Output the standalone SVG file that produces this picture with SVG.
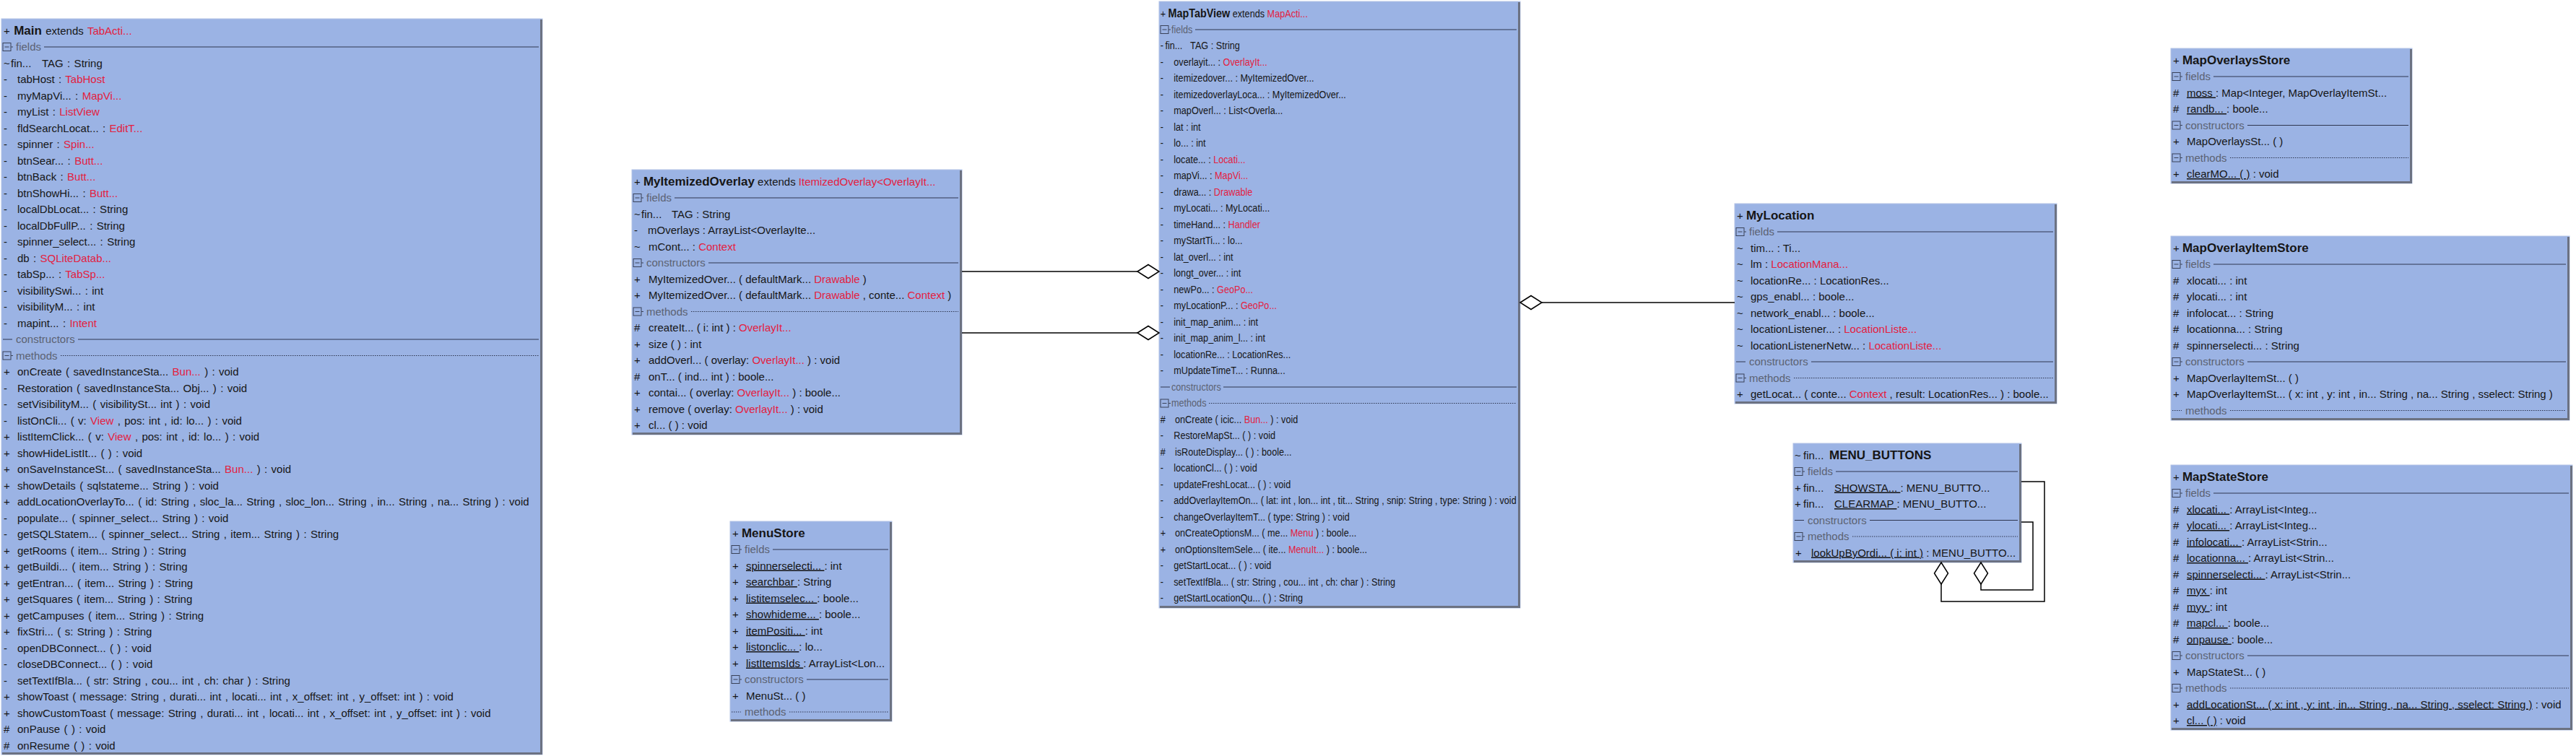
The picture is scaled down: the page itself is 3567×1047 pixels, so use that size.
<svg xmlns="http://www.w3.org/2000/svg" xmlns:xlink="http://www.w3.org/1999/xlink" width="3567" height="1047" viewBox="0 0 3567 1047" xml:space="preserve">
<style>
text{font-family:"Liberation Sans",Arial,Helvetica,sans-serif;font-size:15px;fill:#161616}
.ttl{font-size:17px;font-weight:bold}
.r{fill:#e3203f}
.h{fill:#5b6272}
.u{text-decoration:underline}
.ws text{word-spacing:1.2px}
.box{fill:#9bb3e4;stroke:#b4c3e6;stroke-width:1}
.sh{fill:none;stroke:#6c7282;stroke-width:3}
.hl{stroke:#2e3650;stroke-width:1}
.hd{stroke:#2e3650;stroke-width:1;stroke-dasharray:1.5 1.5}
.ic{fill:none;stroke:#3a4258;stroke-width:1}
.con{fill:none;stroke:#000;stroke-width:1.5}
.dia{fill:#fff;stroke:#000;stroke-width:1.5}
</style>
<defs>
<g id="ico"><rect class="ic" x="2" y="-5.5" width="11" height="11"/><path class="ic" d="M4.5 0H10.5M13 0H16"/></g>
</defs>
<rect x="0" y="0" width="3567" height="1047" fill="#fff"/>

<g id="Main" class="ws">
<rect class="box" x="2" y="26" width="749" height="1019"/>
<polyline class="sh" points="749.5,27 749.5,1043.5 3,1043.5"/>
<text x="5" y="48">+ <tspan class="ttl">Main</tspan> extends <tspan class="r">TabActi...</tspan></text>
<use xlink:href="#ico" x="2" y="65"/><text class="h" x="22" y="70">fields</text><line class="hl" x1="61" y1="65" x2="746" y2="65"/>
<text x="5" y="92.5">~<tspan x="15">fin...</tspan><tspan x="58">TAG : String</tspan></text>
<text x="5" y="115">-<tspan x="24">tabHost : <tspan class="r">TabHost</tspan></tspan></text>
<text x="5" y="137.5">-<tspan x="24">myMapVi...  : <tspan class="r">MapVi...</tspan></tspan></text>
<text x="5" y="160">-<tspan x="24">myList : <tspan class="r">ListView</tspan></tspan></text>
<text x="5" y="182.5">-<tspan x="24">fldSearchLocat...  : <tspan class="r">EditT...</tspan></tspan></text>
<text x="5" y="205">-<tspan x="24">spinner : <tspan class="r">Spin...</tspan></tspan></text>
<text x="5" y="227.5">-<tspan x="24">btnSear...  : <tspan class="r">Butt...</tspan></tspan></text>
<text x="5" y="250">-<tspan x="24">btnBack : <tspan class="r">Butt...</tspan></tspan></text>
<text x="5" y="272.5">-<tspan x="24">btnShowHi...  : <tspan class="r">Butt...</tspan></tspan></text>
<text x="5" y="295">-<tspan x="24">localDbLocat...  : String</tspan></text>
<text x="5" y="317.5">-<tspan x="24">localDbFullP...  : String</tspan></text>
<text x="5" y="340">-<tspan x="24">spinner_select...  : String</tspan></text>
<text x="5" y="362.5">-<tspan x="24">db : <tspan class="r">SQLiteDatab...</tspan></tspan></text>
<text x="5" y="385">-<tspan x="24">tabSp...  : <tspan class="r">TabSp...</tspan></tspan></text>
<text x="5" y="407.5">-<tspan x="24">visibilitySwi...  : int</tspan></text>
<text x="5" y="430">-<tspan x="24">visibilityM...  : int</tspan></text>
<text x="5" y="452.5">-<tspan x="24">mapint...  : <tspan class="r">Intent</tspan></tspan></text>
<line class="hl" x1="4" y1="470" x2="17" y2="470"/><text class="h" x="22" y="475">constructors</text><line class="hl" x1="108" y1="470" x2="746" y2="470"/>
<use xlink:href="#ico" x="2" y="492.5"/><text class="h" x="22" y="497.5">methods</text><line class="hd" x1="84" y1="492.5" x2="746" y2="492.5"/>
<text x="5" y="520">+<tspan x="24">onCreate ( savedInstanceSta...  <tspan class="r">Bun...</tspan>  ) : void</tspan></text>
<text x="5" y="542.5">-<tspan x="24">Restoration ( savedInstanceSta...  Obj...  ) : void</tspan></text>
<text x="5" y="565">-<tspan x="24">setVisibilityM...  ( visibilitySt...  int ) : void</tspan></text>
<text x="5" y="587.5">-<tspan x="24">listOnCli...  ( v: <tspan class="r">View</tspan> , pos: int , id: lo...  ) : void</tspan></text>
<text x="5" y="610">+<tspan x="24">listItemClick...  ( v: <tspan class="r">View</tspan> , pos: int , id: lo...  ) : void</tspan></text>
<text x="5" y="632.5">+<tspan x="24">showHideListIt...  ( ) : void</tspan></text>
<text x="5" y="655">+<tspan x="24">onSaveInstanceSt...  ( savedInstanceSta...  <tspan class="r">Bun...</tspan>  ) : void</tspan></text>
<text x="5" y="677.5">+<tspan x="24">showDetails ( sqlstateme...  String ) : void</tspan></text>
<text x="5" y="700">+<tspan x="24">addLocationOverlayTo...  ( id: String , sloc_la...  String , sloc_lon...  String , in...  String , na...  String ) : void</tspan></text>
<text x="5" y="722.5">-<tspan x="24">populate...  ( spinner_select...  String ) : void</tspan></text>
<text x="5" y="745">-<tspan x="24">getSQLStatem...  ( spinner_select...  String , item...  String ) : String</tspan></text>
<text x="5" y="767.5">+<tspan x="24">getRooms ( item...  String ) : String</tspan></text>
<text x="5" y="790">+<tspan x="24">getBuildi...  ( item...  String ) : String</tspan></text>
<text x="5" y="812.5">+<tspan x="24">getEntran...  ( item...  String ) : String</tspan></text>
<text x="5" y="835">+<tspan x="24">getSquares ( item...  String ) : String</tspan></text>
<text x="5" y="857.5">+<tspan x="24">getCampuses ( item...  String ) : String</tspan></text>
<text x="5" y="880">+<tspan x="24">fixStri...  ( s: String ) : String</tspan></text>
<text x="5" y="902.5">-<tspan x="24">openDBConnect...  ( ) : void</tspan></text>
<text x="5" y="925">-<tspan x="24">closeDBConnect...  ( ) : void</tspan></text>
<text x="5" y="947.5">-<tspan x="24">setTextIfBla...  ( str: String , cou...  int , ch: char ) : String</tspan></text>
<text x="5" y="970">+<tspan x="24">showToast ( message: String , durati...  int , locati...  int , x_offset: int , y_offset: int ) : void</tspan></text>
<text x="5" y="992.5">+<tspan x="24">showCustomToast ( message: String , durati...  int , locati...  int , x_offset: int , y_offset: int ) : void</tspan></text>
<text x="5" y="1015">#<tspan x="24">onPause ( ) : void</tspan></text>
<text x="5" y="1037.5">#<tspan x="24">onResume ( ) : void</tspan></text>
</g>

<g id="MyItemizedOverlay">
<rect class="box" x="875" y="235" width="457" height="367"/>
<polyline class="sh" points="1330.5,236 1330.5,600.5 876,600.5"/>
<text x="878" y="257">+ <tspan class="ttl">MyItemizedOverlay</tspan> extends <tspan class="r">ItemizedOverlay&lt;OverlayIt...</tspan></text>
<use xlink:href="#ico" x="875" y="274"/><text class="h" x="895" y="279">fields</text><line class="hl" x1="934" y1="274" x2="1327" y2="274"/>
<text x="878" y="301.5">~<tspan x="888">fin...</tspan><tspan x="930">TAG : String</tspan></text>
<text x="878" y="324">-<tspan x="897">mOverlays : ArrayList&lt;OverlayIte...</tspan></text>
<text x="878" y="346.5">~<tspan x="898">mCont...  : <tspan class="r">Context</tspan></tspan></text>
<use xlink:href="#ico" x="875" y="364"/><text class="h" x="895" y="369">constructors</text><line class="hl" x1="981" y1="364" x2="1327" y2="364"/>
<text x="878" y="391.5">+<tspan x="898">MyItemizedOver...  ( defaultMark...  <tspan class="r">Drawable</tspan> )</tspan></text>
<text x="878" y="414">+<tspan x="898">MyItemizedOver...  ( defaultMark...  <tspan class="r">Drawable</tspan> , conte...  <tspan class="r">Context</tspan> )</tspan></text>
<use xlink:href="#ico" x="875" y="431.5"/><text class="h" x="895" y="436.5">methods</text><line class="hd" x1="957" y1="431.5" x2="1327" y2="431.5"/>
<text x="878" y="459">#<tspan x="898">createIt...  ( i: int ) : <tspan class="r">OverlayIt...</tspan></tspan></text>
<text x="878" y="481.5">+<tspan x="898">size ( ) : int</tspan></text>
<text x="878" y="504">+<tspan x="898">addOverl...  ( overlay: <tspan class="r">OverlayIt...</tspan>  ) : void</tspan></text>
<text x="878" y="526.5">#<tspan x="898">onT...  ( ind...  int ) : boole...</tspan></text>
<text x="878" y="549">+<tspan x="898">contai...  ( overlay: <tspan class="r">OverlayIt...</tspan>  ) : boole...</tspan></text>
<text x="878" y="571.5">+<tspan x="898">remove ( overlay: <tspan class="r">OverlayIt...</tspan>  ) : void</tspan></text>
<text x="878" y="594">+<tspan x="898">cl...  ( ) : void</tspan></text>
</g>

<g id="MenuStore">
<rect class="box" x="1011" y="722" width="224" height="277"/>
<polyline class="sh" points="1233.5,723 1233.5,997.5 1012,997.5"/>
<text x="1014" y="744">+ <tspan class="ttl">MenuStore</tspan></text>
<use xlink:href="#ico" x="1011" y="761"/><text class="h" x="1031" y="766">fields</text><line class="hl" x1="1070" y1="761" x2="1230" y2="761"/>
<text x="1014" y="788.5">+<tspan x="1033" class="u">spinnerselecti...  </tspan>: int</text>
<text x="1014" y="811">+<tspan x="1033" class="u">searchbar </tspan>: String</text>
<text x="1014" y="833.5">+<tspan x="1033" class="u">listitemselec...  </tspan>: boole...</text>
<text x="1014" y="856">+<tspan x="1033" class="u">showhideme...  </tspan>: boole...</text>
<text x="1014" y="878.5">+<tspan x="1033" class="u">itemPositi...  </tspan>: int</text>
<text x="1014" y="901">+<tspan x="1033" class="u">listonclic...  </tspan>: lo...</text>
<text x="1014" y="923.5">+<tspan x="1033" class="u">listItemsIds </tspan>: ArrayList&lt;Lon...</text>
<use xlink:href="#ico" x="1011" y="941"/><text class="h" x="1031" y="946">constructors</text><line class="hl" x1="1117" y1="941" x2="1230" y2="941"/>
<text x="1014" y="968.5">+<tspan x="1033">MenuSt...  ( )</tspan></text>
<line class="hd" x1="1013" y1="986" x2="1026" y2="986"/><text class="h" x="1031" y="991">methods</text><line class="hd" x1="1093" y1="986" x2="1230" y2="986"/>
</g>

<g id="MapTabView">
<rect class="box" x="1605" y="2" width="500" height="840"/>
<polyline class="sh" points="2103.5,3 2103.5,840.5 1606,840.5"/>
<use xlink:href="#ico" x="1605" y="41"/><line class="hl" x1="1655" y1="41" x2="2100" y2="41"/>
<line class="hl" x1="1607" y1="536" x2="1620" y2="536"/><line class="hl" x1="1694" y1="536" x2="2100" y2="536"/>
<use xlink:href="#ico" x="1605" y="558.5"/><line class="hd" x1="1674" y1="558.5" x2="2100" y2="558.5"/>
<g transform="translate(1605 0) scale(0.845 1) translate(-1605 0)">
<text x="1607" y="24">+ <tspan class="ttl">MapTabView</tspan> extends <tspan class="r">MapActi...</tspan></text>
<text class="h" x="1625" y="46">fields</text>
<text x="1607" y="68.5">-<tspan x="1615">fin...</tspan><tspan x="1656">TAG : String</tspan></text>
<text x="1607" y="91">-<tspan x="1629">overlayit...  : <tspan class="r">OverlayIt...</tspan></tspan></text>
<text x="1607" y="113.5">-<tspan x="1629">itemizedover...  : MyItemizedOver...</tspan></text>
<text x="1607" y="136">-<tspan x="1629">itemizedoverlayLoca...  : MyItemizedOver...</tspan></text>
<text x="1607" y="158.5">-<tspan x="1629">mapOverl...  : List&lt;Overla...</tspan></text>
<text x="1607" y="181">-<tspan x="1629">lat : int</tspan></text>
<text x="1607" y="203.5">-<tspan x="1629">lo...  : int</tspan></text>
<text x="1607" y="226">-<tspan x="1629">locate...  : <tspan class="r">Locati...</tspan></tspan></text>
<text x="1607" y="248.5">-<tspan x="1629">mapVi...  : <tspan class="r">MapVi...</tspan></tspan></text>
<text x="1607" y="271">-<tspan x="1629">drawa...  : <tspan class="r">Drawable</tspan></tspan></text>
<text x="1607" y="293.5">-<tspan x="1629">myLocati...  : MyLocati...</tspan></text>
<text x="1607" y="316">-<tspan x="1629">timeHand...  : <tspan class="r">Handler</tspan></tspan></text>
<text x="1607" y="338.5">-<tspan x="1629">myStartTi...  : lo...</tspan></text>
<text x="1607" y="361">-<tspan x="1629">lat_overl...  : int</tspan></text>
<text x="1607" y="383.5">-<tspan x="1629">longt_over...  : int</tspan></text>
<text x="1607" y="406">-<tspan x="1629">newPo...  : <tspan class="r">GeoPo...</tspan></tspan></text>
<text x="1607" y="428.5">-<tspan x="1629">myLocationP...  : <tspan class="r">GeoPo...</tspan></tspan></text>
<text x="1607" y="451">-<tspan x="1629">init_map_anim...  : int</tspan></text>
<text x="1607" y="473.5">-<tspan x="1629">init_map_anim_l...  : int</tspan></text>
<text x="1607" y="496">-<tspan x="1629">locationRe...  : LocationRes...</tspan></text>
<text x="1607" y="518.5">-<tspan x="1629">mUpdateTimeT...  : Runna...</tspan></text>
<text class="h" x="1625" y="541">constructors</text>
<text class="h" x="1625" y="563.5">methods</text>
<text x="1607" y="586">#<tspan x="1631">onCreate ( icic...  <tspan class="r">Bun...</tspan>  ) : void</tspan></text>
<text x="1607" y="608.5">-<tspan x="1629">RestoreMapSt...  ( ) : void</tspan></text>
<text x="1607" y="631">#<tspan x="1631">isRouteDisplay...  ( ) : boole...</tspan></text>
<text x="1607" y="653.5">-<tspan x="1629">locationCl...  ( ) : void</tspan></text>
<text x="1607" y="676">-<tspan x="1629">updateFreshLocat...  ( ) : void</tspan></text>
<text x="1607" y="698.5">-<tspan x="1629">addOverlayItemOn...  ( lat: int , lon...  int , tit...  String , snip: String , type: String ) : void</tspan></text>
<text x="1607" y="721">-<tspan x="1629">changeOverlayItemT...  ( type: String ) : void</tspan></text>
<text x="1607" y="743.5">+<tspan x="1631">onCreateOptionsM...  ( me...  <tspan class="r">Menu</tspan> ) : boole...</tspan></text>
<text x="1607" y="766">+<tspan x="1631">onOptionsItemSele...  ( ite...  <tspan class="r">MenuIt...</tspan>  ) : boole...</tspan></text>
<text x="1607" y="788.5">-<tspan x="1629">getStartLocat...  ( ) : void</tspan></text>
<text x="1607" y="811">-<tspan x="1629">setTextIfBla...  ( str: String , cou...  int , ch: char ) : String</tspan></text>
<text x="1607" y="833.5">-<tspan x="1629">getStartLocationQu...  ( ) : String</tspan></text>
</g>
</g>

<g id="MyLocation">
<rect class="box" x="2402" y="282" width="446" height="277"/>
<polyline class="sh" points="2846.5,283 2846.5,557.5 2403,557.5"/>
<text x="2405" y="304">+ <tspan class="ttl">MyLocation</tspan></text>
<use xlink:href="#ico" x="2402" y="321"/><text class="h" x="2422" y="326">fields</text><line class="hl" x1="2461" y1="321" x2="2843" y2="321"/>
<text x="2405" y="348.5">~<tspan x="2424">tim...  : Ti...</tspan></text>
<text x="2405" y="371">~<tspan x="2424">lm : <tspan class="r">LocationMana...</tspan></tspan></text>
<text x="2405" y="393.5">~<tspan x="2424">locationRe...  : LocationRes...</tspan></text>
<text x="2405" y="416">~<tspan x="2424">gps_enabl...  : boole...</tspan></text>
<text x="2405" y="438.5">~<tspan x="2424">network_enabl...  : boole...</tspan></text>
<text x="2405" y="461">~<tspan x="2424">locationListener...  : <tspan class="r">LocationListe...</tspan></tspan></text>
<text x="2405" y="483.5">~<tspan x="2424">locationListenerNetw...  : <tspan class="r">LocationListe...</tspan></tspan></text>
<line class="hl" x1="2404" y1="501" x2="2417" y2="501"/><text class="h" x="2422" y="506">constructors</text><line class="hl" x1="2508" y1="501" x2="2843" y2="501"/>
<use xlink:href="#ico" x="2402" y="523.5"/><text class="h" x="2422" y="528.5">methods</text><line class="hd" x1="2484" y1="523.5" x2="2843" y2="523.5"/>
<text x="2405" y="551">+<tspan x="2424">getLocat...  ( conte...  <tspan class="r">Context</tspan> , result: LocationRes...  ) : boole...</tspan></text>
</g>

<g id="MENU_BUTTONS">
<rect class="box" x="2483" y="614" width="316" height="165"/>
<polyline class="sh" points="2797.5,615 2797.5,777.5 2484,777.5"/>
<text x="2485" y="636">~<tspan x="2497">fin...</tspan><tspan x="2533" class="ttl">MENU_BUTTONS</tspan></text>
<use xlink:href="#ico" x="2483" y="653"/><text class="h" x="2503" y="658">fields</text><line class="hl" x1="2542" y1="653" x2="2794" y2="653"/>
<text x="2485" y="680.5">+<tspan x="2497">fin...</tspan><tspan x="2540" class="u">SHOWSTA...  </tspan>: MENU_BUTTO...</text>
<text x="2485" y="703">+<tspan x="2497">fin...</tspan><tspan x="2540" class="u">CLEARMAP </tspan>: MENU_BUTTO...</text>
<line class="hl" x1="2485" y1="720.5" x2="2498" y2="720.5"/><text class="h" x="2503" y="725.5">constructors</text><line class="hl" x1="2589" y1="720.5" x2="2794" y2="720.5"/>
<use xlink:href="#ico" x="2483" y="743"/><text class="h" x="2503" y="748">methods</text><line class="hd" x1="2565" y1="743" x2="2794" y2="743"/>
<text x="2486" y="770.5">+<tspan x="2508" class="u">lookUpByOrdi...  ( i: int )</tspan> : MENU_BUTTO...</text>
</g>

<g id="MapOverlaysStore">
<rect class="box" x="3006" y="67" width="334" height="187"/>
<polyline class="sh" points="3338.5,68 3338.5,252.5 3007,252.5"/>
<text x="3009" y="89">+ <tspan class="ttl">MapOverlaysStore</tspan></text>
<use xlink:href="#ico" x="3006" y="106"/><text class="h" x="3026" y="111">fields</text><line class="hl" x1="3065" y1="106" x2="3335" y2="106"/>
<text x="3009" y="133.5">#<tspan x="3028" class="u">moss </tspan>: Map&lt;Integer, MapOverlayItemSt...</text>
<text x="3009" y="156">#<tspan x="3028" class="u">randb...  </tspan>: boole...</text>
<use xlink:href="#ico" x="3006" y="173.5"/><text class="h" x="3026" y="178.5">constructors</text><line class="hl" x1="3112" y1="173.5" x2="3335" y2="173.5"/>
<text x="3009" y="201">+<tspan x="3028">MapOverlaysSt...  ( )</tspan></text>
<use xlink:href="#ico" x="3006" y="218.5"/><text class="h" x="3026" y="223.5">methods</text><line class="hd" x1="3088" y1="218.5" x2="3335" y2="218.5"/>
<text x="3009" y="246">+<tspan x="3028" class="u">clearMO...  ( )</tspan> : void</text>
</g>

<g id="MapOverlayItemStore">
<rect class="box" x="3006" y="327" width="552" height="255"/>
<polyline class="sh" points="3556.5,328 3556.5,580.5 3007,580.5"/>
<text x="3009" y="349">+ <tspan class="ttl">MapOverlayItemStore</tspan></text>
<use xlink:href="#ico" x="3006" y="366"/><text class="h" x="3026" y="371">fields</text><line class="hl" x1="3065" y1="366" x2="3553" y2="366"/>
<text x="3009" y="393.5">#<tspan x="3028">xlocati...  : int</tspan></text>
<text x="3009" y="416">#<tspan x="3028">ylocati...  : int</tspan></text>
<text x="3009" y="438.5">#<tspan x="3028">infolocat...  : String</tspan></text>
<text x="3009" y="461">#<tspan x="3028">locationna...  : String</tspan></text>
<text x="3009" y="483.5">#<tspan x="3028">spinnerselecti...  : String</tspan></text>
<use xlink:href="#ico" x="3006" y="501"/><text class="h" x="3026" y="506">constructors</text><line class="hl" x1="3112" y1="501" x2="3553" y2="501"/>
<text x="3009" y="528.5">+<tspan x="3028">MapOverlayItemSt...  ( )</tspan></text>
<text x="3009" y="551">+<tspan x="3028">MapOverlayItemSt...  ( x: int , y: int , in...  String , na...  String , sselect: String )</tspan></text>
<line class="hd" x1="3008" y1="568.5" x2="3021" y2="568.5"/><text class="h" x="3026" y="573.5">methods</text><line class="hd" x1="3088" y1="568.5" x2="3553" y2="568.5"/>
</g>

<g id="MapStateStore">
<rect class="box" x="3006" y="644" width="556" height="367"/>
<polyline class="sh" points="3560.5,645 3560.5,1009.5 3007,1009.5"/>
<text x="3009" y="666">+ <tspan class="ttl">MapStateStore</tspan></text>
<use xlink:href="#ico" x="3006" y="683"/><text class="h" x="3026" y="688">fields</text><line class="hl" x1="3065" y1="683" x2="3557" y2="683"/>
<text x="3009" y="710.5">#<tspan x="3028" class="u">xlocati...  </tspan>: ArrayList&lt;Integ...</text>
<text x="3009" y="733">#<tspan x="3028" class="u">ylocati...  </tspan>: ArrayList&lt;Integ...</text>
<text x="3009" y="755.5">#<tspan x="3028" class="u">infolocati...  </tspan>: ArrayList&lt;Strin...</text>
<text x="3009" y="778">#<tspan x="3028" class="u">locationna...  </tspan>: ArrayList&lt;Strin...</text>
<text x="3009" y="800.5">#<tspan x="3028" class="u">spinnerselecti...  </tspan>: ArrayList&lt;Strin...</text>
<text x="3009" y="823">#<tspan x="3028" class="u">myx </tspan>: int</text>
<text x="3009" y="845.5">#<tspan x="3028" class="u">myy </tspan>: int</text>
<text x="3009" y="868">#<tspan x="3028" class="u">mapcl...  </tspan>: boole...</text>
<text x="3009" y="890.5">#<tspan x="3028" class="u">onpause </tspan>: boole...</text>
<use xlink:href="#ico" x="3006" y="908"/><text class="h" x="3026" y="913">constructors</text><line class="hl" x1="3112" y1="908" x2="3557" y2="908"/>
<text x="3009" y="935.5">+<tspan x="3028">MapStateSt...  ( )</tspan></text>
<use xlink:href="#ico" x="3006" y="953"/><text class="h" x="3026" y="958">methods</text><line class="hd" x1="3088" y1="953" x2="3557" y2="953"/>
<text x="3009" y="980.5">+<tspan x="3028" class="u">addLocationSt...  ( x: int , y: int , in...  String , na...  String , sselect: String )</tspan> : void</text>
<text x="3009" y="1003">+<tspan x="3028" class="u">cl...  ( )</tspan> : void</text>
</g>

<g id="connectors">
<line class="con" x1="1332" y1="376" x2="1575" y2="376"/>
<polygon class="dia" points="1575,376 1590,366.5 1605,376 1590,385.5"/>
<line class="con" x1="1332" y1="461" x2="1575" y2="461"/>
<polygon class="dia" points="1575,461 1590,451.5 1605,461 1590,470.5"/>
<line class="con" x1="2135" y1="419" x2="2402" y2="419"/>
<polygon class="dia" points="2105,419 2120,409.5 2135,419 2120,428.5"/>
<polyline class="con" points="2799,667 2831,667 2831,833 2688,833 2688,809"/>
<polygon class="dia" points="2688,779 2697.5,794 2688,809 2678.5,794"/>
<polyline class="con" points="2799,723 2815,723 2815,817 2743,817 2743,809"/>
<polygon class="dia" points="2743,779 2752.5,794 2743,809 2733.5,794"/>
</g>
</svg>
